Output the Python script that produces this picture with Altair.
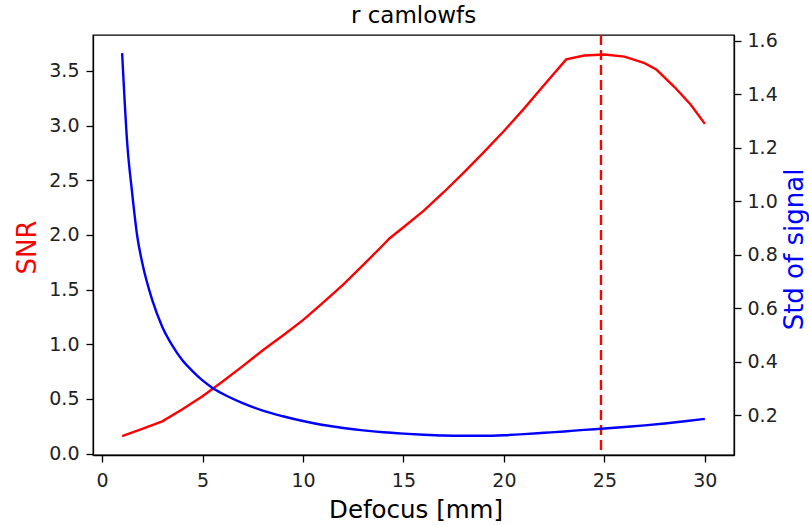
import altair as alt
import pandas as pd

# SNR (red, left axis)
snr_x = [1, 2, 3, 4, 5, 6, 7, 8, 9, 10, 11, 12, 13, 14, 14.3, 15, 16, 17, 18, 19, 20,
         21, 22, 23.1, 24, 25, 26, 27, 27.6, 28.5, 29.3, 30]
snr_y = [0.160, 0.225, 0.295, 0.405, 0.525, 0.66, 0.80, 0.945, 1.08, 1.22, 1.38, 1.545,
         1.725, 1.91, 1.967, 2.07, 2.22, 2.39, 2.57, 2.757, 2.95, 3.155, 3.37, 3.605,
         3.64, 3.65, 3.63, 3.57, 3.51, 3.35, 3.19, 3.015]

# Std of signal (blue, right axis)
std_x = [1.0, 1.25, 1.5, 1.75, 2.0, 2.5, 3.0, 3.5, 4.0, 4.5, 5.0, 5.5, 6.0, 7.0, 8.0, 9.0,
         10.0, 11.0, 12.0, 13.0, 14.0, 15.0, 16.0, 17.0, 18.0, 19.0, 20.0, 21.0, 22.0,
         23.0, 24.0, 25.0, 26.0, 27.0, 28.0, 29.0, 30.0]
std_y = [1.554, 1.22, 1.03, 0.87, 0.77, 0.63, 0.53, 0.46, 0.405, 0.365, 0.33, 0.302, 0.28,
         0.245, 0.217, 0.196, 0.178, 0.163, 0.152, 0.143, 0.136, 0.131, 0.127, 0.124,
         0.123, 0.123, 0.125, 0.129, 0.134, 0.139, 0.145, 0.150, 0.156, 0.162, 0.169,
         0.177, 0.186]

best_x = [24.83]

x_ticks = [0, 5, 10, 15, 20, 25, 30]
snr_ticks = [0.0, 0.5, 1.0, 1.5, 2.0, 2.5, 3.0, 3.5]
std_ticks = [0.2, 0.4, 0.6, 0.8, 1.0, 1.2, 1.4, 1.6]

df_snr = pd.DataFrame({"defocus": snr_x, "snr": snr_y})
df_std = pd.DataFrame({"defocus": std_x, "std": std_y})
df_best = pd.DataFrame({"defocus": best_x})

FONT = "DejaVu Sans"
W, H = 641, 420

xscale = alt.Scale(domain=[-0.45, 31.45], nice=False, zero=False)
xaxis = alt.Axis(values=x_ticks, format="d", title="Defocus [mm]", grid=False,
                 titleX=322.5, titleY=62, titleBaseline="alphabetic", titleAlign="center",
                 titleFontSize=24.5, titleFontWeight="normal", titleColor="#000000",
                 labelPadding=9)

red = alt.Chart(df_snr).mark_line(color="#ff0000", strokeWidth=2.4).encode(
    x=alt.X("defocus:Q", scale=xscale, axis=xaxis),
    y=alt.Y("snr:Q", scale=alt.Scale(domain=[-0.013, 3.828], nice=False, zero=False),
            axis=alt.Axis(orient="left", values=snr_ticks, format=".1f", title="SNR",
                          grid=False, titleColor="#ff0000", titleFontSize=26,
                          titleFontWeight="normal", titleAngle=270, titleX=-58, titleY=212,
                          titleAlign="center", titleBaseline="alphabetic", labelPadding=7)),
)

rule = alt.Chart(df_best).mark_rule(color="#ff0000", strokeWidth=2.4, strokeDash=[10, 5]).encode(
    x=alt.X("defocus:Q", scale=xscale)
)

blue = alt.Chart(df_std).mark_line(color="#0000ff", strokeWidth=2.4, interpolate="monotone").encode(
    x=alt.X("defocus:Q", scale=xscale),
    y=alt.Y("std:Q", scale=alt.Scale(domain=[0.051, 1.622], nice=False, zero=False),
            axis=alt.Axis(orient="right", values=std_ticks, format=".1f", title="Std of signal",
                          grid=False, titleColor="#0000ff", titleFontSize=26,
                          titleFontWeight="normal", titleAngle=270, titleX=68, titleY=214,
                          titleAlign="center", titleBaseline="alphabetic", labelPadding=6)),
)

chart = alt.layer(red, rule, blue).resolve_scale(y="independent").properties(
    width=W, height=H,
    background="#ffffff",
    title=alt.TitleParams("r camlowfs", fontSize=23, font=FONT, fontWeight="normal",
                          color="#000000", anchor="middle", frame="group",
                          baseline="alphabetic", offset=-14),
    padding={"left": 93, "top": 35, "right": 75, "bottom": 70},
    autosize=alt.AutoSizeParams(type="none"),
).configure_view(
    stroke="#000000", strokeWidth=1.3
).configure_axis(
    labelFont=FONT, titleFont=FONT, labelFontSize=19, labelColor="#222222",
    domainColor="#000000", domainWidth=1.3, tickColor="#000000", tickWidth=1.3,
    tickSize=7, grid=False
)

chart.save("out.html", embed_options={"renderer": "svg", "actions": False})
